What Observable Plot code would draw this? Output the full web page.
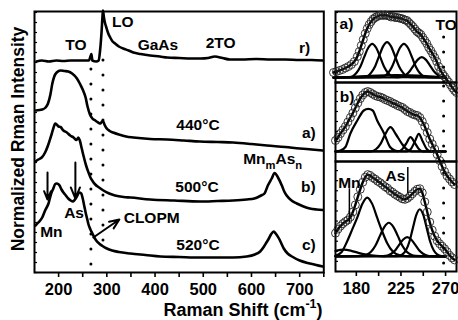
<!DOCTYPE html>
<html><head><meta charset="utf-8">
<script src="https://cdn.jsdelivr.net/npm/d3@7"></script>
<script src="https://cdn.jsdelivr.net/npm/@observablehq/plot@0.6"></script>
<style>
body{margin:0;background:#fff;}
#chart{position:relative;width:458px;height:320px;overflow:hidden;background:#fff;font-family:"Liberation Sans",Arial,Helvetica,sans-serif;font-weight:bold;color:#000;}
.wrap{position:absolute;}
.wrap svg{display:block;overflow:visible;}
.ytitle{position:absolute;left:18.5px;top:139px;transform:translate(-50%,-50%) rotate(-90deg);white-space:nowrap;font-size:17.5px;line-height:1;}
.xtitle{position:absolute;left:243px;top:310px;transform:translate(-50%,-50%);white-space:nowrap;font-size:18px;line-height:1;}
.xtitle sup{font-size:12.5px;line-height:0;position:relative;top:-1px;vertical-align:super;}
</style></head>
<body><div id="chart"></div>
<script>
// ---------------- data: left panel (Raman shift cm-1, normalized intensity + offset)
const spectrumR = [[154,21.1],[165,21.2],[180,21.1],[195,21.2],[210,21.15],[225,21.2],[240,21.2],[255,21.2],[263,21.2],[266,21.6],[268,21.85],[270,21.2],[278,21.1],[283,21.2],[286,22.2],[289,24.0],[291,25.6],[292,26.2],[294,25.5],[296,25.0],[299,24.5],[303,23.9],[307,23.5],[312,23.1],[317,22.9],[325,22.6],[334,22.4],[345,22.2],[355,22.0],[370,21.85],[390,21.7],[410,21.6],[425,21.5],[450,21.45],[475,21.4],[495,21.4],[510,21.45],[524,21.6],[540,21.45],[555,21.3],[580,21.3],[610,21.35],[640,21.3],[670,21.3],[700,21.25],[725,21.25],[748,21.2]];
const spectrum440 = [[153,16.2],[166,16.3],[173,16.5],[178,16.9],[183,17.8],[187,18.9],[191,19.6],[196,20.0],[204,20.2],[212,20.15],[220,20.1],[228,19.9],[238,19.4],[245,18.8],[250,18.3],[256,17.5],[260,16.6],[265,15.8],[270,15.4],[276,15.2],[282,15.0],[287,14.9],[290,15.1],[292,15.15],[295,14.8],[299,14.45],[306,14.15],[313,14.0],[325,13.8],[340,13.6],[355,13.5],[390,13.35],[425,13.3],[460,13.2],[493,13.1],[530,13.05],[562,13.0],[600,12.85],[632,12.7],[670,12.55],[700,12.4],[725,12.3],[748,12.2]];
const spectrum500 = [[152,11.1],[158,11.3],[165,11.5],[172,12.0],[178,12.7],[184,13.6],[189,14.4],[193,14.9],[196,14.8],[200,14.6],[204,14.55],[210,14.2],[217,14.0],[224,13.7],[231,13.5],[237,13.25],[241,13.5],[244,13.2],[248,12.4],[252,11.6],[257,10.7],[262,10.0],[266,9.5],[271,9.1],[276,8.8],[284,8.5],[293,8.2],[305,7.9],[317,7.7],[335,7.55],[349,7.5],[390,7.3],[440,7.2],[493,7.1],[530,7.15],[562,7.2],[590,7.3],[606,7.4],[620,7.7],[627,7.9],[634,8.7],[642,9.4],[648,9.95],[655,9.5],[663,8.7],[668,8.1],[673,7.7],[683,7.2],[694,6.9],[708,6.6],[721,6.4],[735,6.3],[748,6.25]];
const spectrum520 = [[152,4.7],[158,5.0],[166,5.5],[172,6.2],[179,6.9],[184,7.8],[189,8.4],[193,8.85],[196,8.9],[199,8.85],[202,8.7],[206,8.3],[210,8.0],[215,7.7],[220,7.4],[225,7.2],[230,7.1],[234,7.3],[238,7.6],[241,7.9],[244,8.0],[247,7.9],[250,7.4],[253,6.7],[256,6.0],[259,5.4],[262,4.8],[266,4.3],[270,3.9],[274,3.5],[278,3.2],[284,2.9],[291,2.65],[300,2.4],[311,2.2],[325,2.05],[349,1.9],[380,1.75],[411,1.6],[450,1.55],[493,1.5],[530,1.5],[562,1.5],[590,1.6],[607,1.8],[618,2.1],[626,2.6],[631,3.0],[636,3.4],[641,3.85],[646,4.1],[651,3.85],[657,3.4],[662,2.9],[667,2.4],[675,1.9],[684,1.6],[700,1.2],[721,0.9],[748,0.6]];
const leftMajorTicks = [200,300,400,500,600,700];
const leftMinorTicks = [250,350,450,550,650,750];
const leftYTicks = [0,1,2,3,4,5,6,7,8,9,10,11,12,13,14,15,16,17,18,19,20,21,22,23,24,25,26];
const phononLines = [{v:267, from:0.8, to:21.0},{v:292, from:3.2, to:22.2}];
const leftLabels = [
  {t:"LO", v:333, y:25.0},{t:"TO", v:236, y:22.7},{t:"GaAs", v:406, y:22.7},{t:"2TO", v:536, y:22.9},{t:"r)", v:710, y:22.4},
  {t:"440°C", v:489, y:14.7},{t:"a)", v:719, y:13.9},
  {t:"500°C", v:487, y:8.5},{t:"b)", v:718, y:8.5},{t:"Mn_{m}As_{n}", v:644, y:11.35},
  {t:"Mn", v:185, y:4.0},{t:"As", v:232, y:5.9},{t:"CLOPM", v:393, y:5.4},
  {t:"520°C", v:489, y:2.7},{t:"c)", v:719, y:2.7}
];
const leftArrows = [
  {v1:177, y1:10.0, v2:177, y2:7.3},
  {v1:234.8, y1:11.0, v2:234.8, y2:7.4},
  {v1:272, y1:3.5, v2:326, y2:5.3}
];

// ---------------- data: right panel (fits, 159-281 cm-1)
const rightMajorTicks = [180,225,270];
const rightMinorTicks = [202.5,247.5];
const subYTicks = [0,1,2,3,4,5,6,7,8,9,10];
// a) 440°C
const dataA = [[157,1.0],[160,1.1],[163,1.2],[166,1.3],[169,1.45],[172,1.6],[175,1.8],[178,2.1],[181,2.6],[183,3.1],[185,3.7],[187,4.3],[189,4.9],[191,5.4],[193,5.8],[195,6.1],[197,6.35],[199,6.5],[201,6.6],[203,6.7],[205,6.75],[207,6.7],[209,6.75],[211,6.7],[213,6.65],[215,6.55],[217,6.6],[219,6.5],[221,6.5],[223,6.45],[225,6.4],[227,6.35],[229,6.25],[231,6.2],[233,6.0],[235,5.8],[237,5.6],[239,5.35],[241,5.1],[243,4.95],[245,4.8],[247,4.5],[249,4.2],[251,3.9],[253,3.5],[255,3.2],[257,2.85],[259,2.5],[261,2.1],[263,1.6],[265,1.2],[267,0.85],[269,0.6],[271,0.3],[273,0.05],[275,-0.25],[277,-0.55],[279,-0.8],[281,-1.0]];
const fitA1 = [[157,0.5],[172,0.53],[176,0.6],[180,0.95],[184,1.58],[188,2.56],[192,3.47],[196,3.87],[200,3.47],[204,2.56],[208,1.58],[212,0.95],[216,0.6],[220,0.53],[270,0.5]];
const fitA2 = [[157,0.5],[187,0.53],[191,0.6],[195,0.98],[199,1.63],[203,2.65],[207,3.61],[211,4.03],[215,3.61],[219,2.65],[223,1.63],[227,0.98],[231,0.6],[235,0.53],[270,0.5]];
const fitA3 = [[157,0.5],[204,0.53],[208,0.6],[212,0.95],[216,1.58],[220,2.56],[224,3.47],[228,3.87],[232,3.47],[236,2.56],[240,1.58],[244,0.95],[248,0.6],[252,0.53],[270,0.5]];
const fitA4 = [[157,0.5],[222,0.52],[226,0.55],[230,0.77],[234,1.15],[238,1.74],[242,2.29],[246,2.53],[250,2.29],[254,1.74],[258,1.15],[262,0.77],[266,0.55],[270,0.52]];
const fitA0 = [[157,0.45],[190,0.65],[220,0.75],[250,0.65],[270,0.5]];
// b) 500°C
const dataB = [[159,2.1],[161.5,2.4],[164,2.8],[166.5,3.15],[169,3.5],[171.5,3.95],[174,4.4],[176.5,4.85],[179,5.35],[181.5,5.85],[184,6.3],[186.5,6.65],[189,6.9],[191.5,7.0],[194,6.9],[196.5,6.75],[199,6.6],[201.5,6.5],[204,6.45],[206.5,6.35],[209,6.2],[211.5,6.1],[214,6.0],[216.5,5.85],[219,5.75],[221.5,5.6],[224,5.5],[226.5,5.4],[229,5.2],[231.5,5.0],[234,4.9],[236.5,4.75],[239,4.65],[241.5,4.6],[244,4.4],[246.5,4.0],[249,3.5],[251.5,2.9],[254,2.25],[256.5,1.75],[259,1.25],[261.5,0.7],[264,0.1],[266.5,-0.5],[269,-1.0],[271.5,-1.45],[274,-1.75],[276.5,-2.05],[279,-2.3]];
const fitB1 = [[159,1.0],[164,1.1],[169,1.45],[174,2.8],[181,4.1],[187.5,5.1],[192,5.27],[196.5,5.1],[201,4.1],[208,2.8],[214,1.45],[219,1.1],[225,1.0],[270,1.0]];
const fitB2 = [[159,1.0],[195,1.02],[200,1.25],[204.4,1.77],[209,2.7],[214.4,3.43],[220,2.7],[226,1.77],[231,1.2],[236,1.02],[270,1.0]];
const fitB3 = [[159,1.0],[222,1.02],[226,1.2],[230,1.75],[234.6,2.43],[239,1.85],[243,1.25],[247,1.02],[270,1.0]];
const fitB4 = [[159,1.0],[231,1.02],[235,1.25],[239,2.0],[243,2.77],[247,2.0],[251,1.25],[255,1.02],[270,1.0]];
// c) 520°C
const dataC = [[159,3.8],[161.5,4.2],[164,4.5],[166.5,4.75],[169,4.95],[171.5,5.1],[174,5.4],[176.5,5.9],[179,6.6],[181.5,7.4],[184,8.15],[186.5,8.85],[189,9.35],[191.5,9.6],[194,9.5],[196.5,9.3],[199,9.15],[201.5,8.95],[204,8.8],[206.5,8.6],[209,8.4],[211.5,8.25],[214,8.0],[216.5,7.85],[219,7.65],[221.5,7.5],[224,7.35],[226.5,7.2],[229,7.15],[231.5,7.25],[234,7.45],[236.5,7.7],[239,7.95],[241.5,8.15],[244,8.2],[246.5,7.8],[249,6.9],[251.5,5.9],[254,4.9],[256.5,4.1],[259,3.5],[261.5,3.05],[264,2.75],[266.5,2.5],[269,2.25],[271.5,1.95],[274,1.6],[276.5,1.35],[279,1.15]];
const fitC1 = [[159,1.55],[165,1.9],[170.8,3.0],[176,4.2],[180.9,5.33],[186,6.7],[191,7.33],[196,6.7],[201,5.33],[206,4.0],[211,2.83],[217,1.95],[224,1.6],[235,1.5],[270,1.5]];
const fitC2 = [[159,1.5],[186,1.55],[190.3,1.65],[194.8,1.95],[199.3,2.57],[203.8,3.53],[208.3,4.43],[212.8,4.83],[217.3,4.43],[221.8,3.53],[226.3,2.57],[230.8,1.95],[235.3,1.65],[240,1.55],[270,1.5]];
const fitC3 = [[159,1.5],[207,1.53],[211.3,1.58],[215.3,1.76],[219.3,2.11],[223.3,2.66],[227.3,3.17],[231.3,3.4],[235.3,3.17],[239.3,2.66],[243.3,2.11],[247.3,1.76],[251.3,1.58],[256,1.52],[270,1.5]];
const fitC4 = [[159,1.5],[222,1.52],[226.5,1.69],[230,2.1],[233.5,2.95],[237,4.3],[240.5,5.6],[244,6.17],[247.5,5.6],[251,4.3],[254.5,2.95],[258,2.1],[261.5,1.69],[266,1.52],[270,1.5]];
const fitC5 = [[159,2.05],[167.4,2.17],[175,2.05],[182,1.85],[190,1.68],[200,1.55],[215,1.5],[270,1.5]];
const labelsA = [{t:"a)", v:170, y:5.8},{t:"TO", v:270.5, y:5.7}];
const labelsB = [{t:"b)", v:170.6, y:6.4}];
const labelsC = [{t:"Mn", v:173, y:8.8},{t:"As", v:219.5, y:9.5}];
const markersC = [{v:173, from:4.8, to:8.2},{v:231.9, from:7.7, to:10.3}];

// ---------------- rendering
const FONT = '"Liberation Sans", Arial, Helvetica, sans-serif';
const rows = arr => arr.map(([v, y]) => ({v, y}));
const style = () => ({fontFamily: FONT, fontSize: "16.5px", fontWeight: "bold", overflow: "visible", background: "transparent", color: "black"});

function richText(svg) {
  svg.querySelectorAll("text").forEach(t => {
    const s = t.textContent;
    if (!/[_^]\{/.test(s)) return;
    const parts = s.split(/([_^]\{[^}]*\})/).filter(p => p);
    while (t.firstChild) t.removeChild(t.firstChild);
    let shift = 0;
    for (const p of parts) {
      const ts = document.createElementNS("http://www.w3.org/2000/svg", "tspan");
      let target = 0, txt = p, small = false;
      if (p[0] === "_") { target = 5; txt = p.slice(2, -1); small = true; }
      else if (p[0] === "^") { target = -6; txt = p.slice(2, -1); small = true; }
      ts.setAttribute("dy", target - shift);
      shift = target;
      if (small) ts.setAttribute("font-size", "0.72em");
      ts.textContent = txt;
      t.appendChild(ts);
    }
  });
}

function place(svg, left, top, z) {
  const d = document.createElement("div");
  d.className = "wrap";
  d.style.left = left + "px"; d.style.top = top + "px"; d.style.zIndex = z;
  richText(svg);
  d.appendChild(svg);
  document.getElementById("chart").appendChild(d);
}

const lineOpts = {x: "v", y: "y", stroke: "black", strokeWidth: 2.6, curve: "monotone-x"};

const leftPlot = Plot.plot({
  width: 330, height: 320,
  marginLeft: 34, marginRight: 6.7, marginTop: 11, marginBottom: 48,
  x: {domain: [150, 750], label: null},
  y: {domain: [0, 26.1], label: null},
  style: style(),
  marks: [
    Plot.frame({stroke: "black", strokeWidth: 2}),
    Plot.axisX({ticks: leftMajorTicks, tickSize: 5, tickPadding: 6, strokeWidth: 1.6, label: null}),
    Plot.axisX({ticks: leftMinorTicks, tickSize: 5, strokeWidth: 1.6, tickFormat: () => "", label: null}),
    Plot.axisY({ticks: leftYTicks, tickSize: 3, dx: 3, strokeWidth: 1.2, tickFormat: () => "", label: null}),
    Plot.ruleX(phononLines, {x: "v", y1: "from", y2: "to", stroke: "black", strokeWidth: 3, strokeDasharray: "0,15", strokeLinecap: "round"}),
    Plot.line(rows(spectrumR), lineOpts),
    Plot.line(rows(spectrum440), lineOpts),
    Plot.line(rows(spectrum500), lineOpts),
    Plot.line(rows(spectrum520), lineOpts),
    Plot.arrow(leftArrows, {x1: "v1", y1: "y1", x2: "v2", y2: "y2", stroke: "black", strokeWidth: 2, headLength: 9, headAngle: 45}),
    Plot.text(leftLabels, {x: "v", y: "y", text: "t", fontSize: 15.5, fontWeight: "bold", textAnchor: "middle", lineAnchor: "middle", fill: "black"})
  ]
});
place(leftPlot, 0, 0, 0);

function subPanel({height, mt, mb, ymax, data, fits, labels, toRange, markers, withAxis}) {
  const marks = [
    Plot.frame({stroke: "black", strokeWidth: 2}),
    Plot.axisY({ticks: subYTicks.filter(t => t <= ymax), tickSize: 3, dx: 3, strokeWidth: 1.2, tickFormat: () => "", label: null})
  ];
  if (withAxis) {
    marks.push(Plot.axisX({ticks: rightMajorTicks, tickSize: 5, tickPadding: 6, strokeWidth: 1.6, label: null}));
    marks.push(Plot.axisX({ticks: rightMinorTicks, tickSize: 5, strokeWidth: 1.6, tickFormat: () => "", label: null}));
  }
  for (const f of fits) marks.push(Plot.line(rows(f), {x: "v", y: "y", stroke: "black", strokeWidth: 2.2, curve: "monotone-x"}));
  marks.push(Plot.line(rows(data), {x: "v", y: "y", stroke: "black", strokeWidth: 2.4, curve: "monotone-x"}));
  marks.push(Plot.dot(rows(data), {x: "v", y: "y", r: 4, fill: "none", stroke: "#222", strokeWidth: 0.9}));
  marks.push(Plot.ruleX([toRange], {x: "v", y1: "from", y2: "to", stroke: "black", strokeWidth: 3, strokeDasharray: "0,15", strokeLinecap: "round"}));
  if (markers) marks.push(Plot.ruleX(markers, {x: "v", y1: "from", y2: "to", stroke: "black", strokeWidth: 1.5}));
  marks.push(Plot.text(labels, {x: "v", y: "y", text: "t", fontSize: 15.5, fontWeight: "bold", textAnchor: "middle", lineAnchor: "middle", fill: "black"}));
  return Plot.plot({
    width: 128, height, marginLeft: 5, marginRight: 2, marginTop: mt, marginBottom: mb,
    x: withAxis ? {domain: [159, 281], label: null} : {domain: [159, 281], label: null, axis: null},
    y: {domain: [0, ymax], label: null},
    style: style(),
    marks
  });
}

place(subPanel({height: 82, mt: 11, mb: 0, ymax: 7.1, data: dataA, fits: [fitA0, fitA1, fitA2, fitA3, fitA4], labels: labelsA, toRange: {v: 268, from: 0, to: 4.6}}), 330, 0, 3);
place(subPanel({height: 79, mt: 0, mb: 0, ymax: 7.9, data: dataB, fits: [fitB1, fitB2, fitB3, fitB4], labels: labelsB, toRange: {v: 268, from: 0, to: 7.9}}), 330, 82, 2);
place(subPanel({height: 159, mt: 0, mb: 49, ymax: 10.9, data: dataC, fits: [fitC5, fitC1, fitC2, fitC3, fitC4], labels: labelsC, toRange: {v: 268, from: 0.8, to: 10.9}, markers: markersC, withAxis: true}), 330, 161, 1);

const chart = document.getElementById("chart");
const yt = document.createElement("div"); yt.className = "ytitle"; yt.textContent = "Normalized Rman Intensity"; chart.appendChild(yt);
const xt = document.createElement("div"); xt.className = "xtitle"; xt.innerHTML = "Raman Shift (cm<sup>-1</sup>)"; chart.appendChild(xt);
</script>
</body></html>
